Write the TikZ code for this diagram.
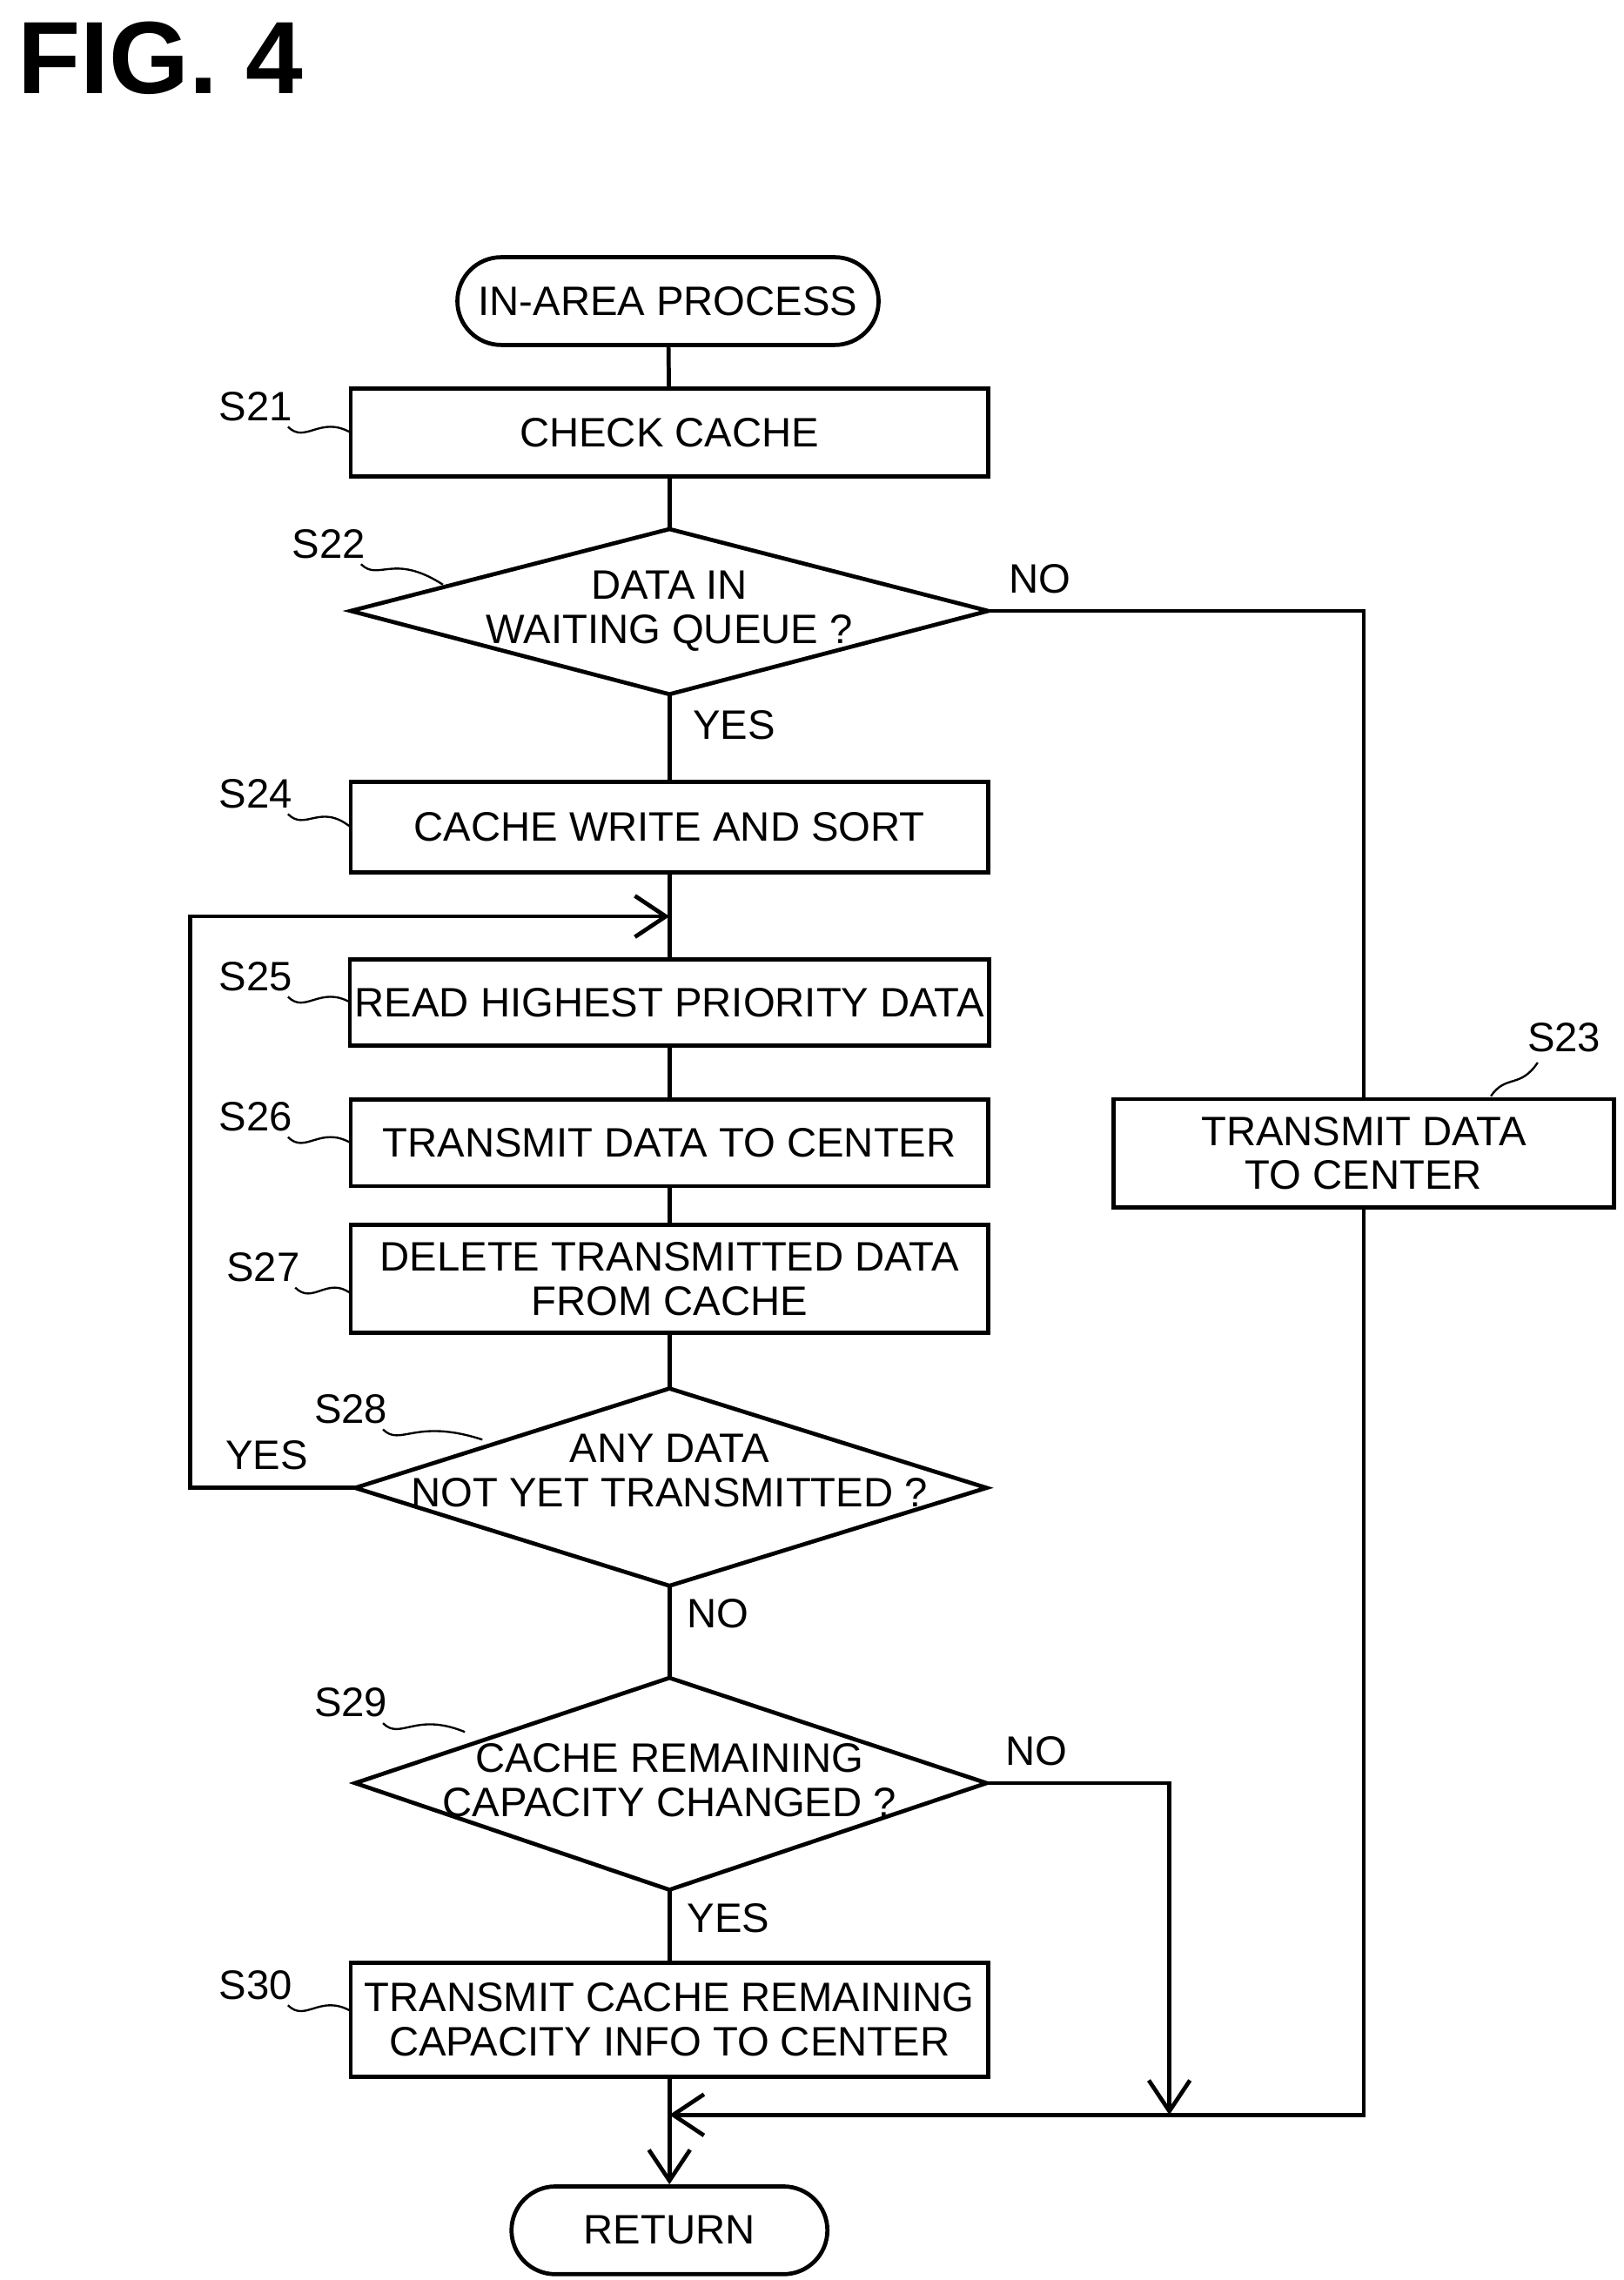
\documentclass[tikz,border=0pt]{standalone}
\usepackage{fontspec}
\setmainfont{Liberation Sans}
\usetikzlibrary{shapes.geometric,arrows.meta,calc}
\begin{document}
\begin{tikzpicture}[x=0.01cm,y=-0.01cm,
  every node/.style={font=\fontsize{8}{8.6}\selectfont,inner sep=1pt},
  lab/.style={font=\fontsize{8}{8.6}\selectfont},
  bx/.style={draw,thick,minimum width=4.36cm,align=center},
  ln/.style={thick},
  arr/.style={thick,-{Straight Barb[length=6pt,width=8pt]}},
  sq/.style={thin}]
\useasboundingbox (0,0) rectangle (1111,1560);
\node[font=\bfseries\fontsize{20}{22}\selectfont,anchor=west] (fig) at (8,40) {FIG. 4};
\node[draw,thick,rounded corners=0.3cm,minimum width=2.88cm,minimum height=0.6cm] (st) at (457,206) {IN-AREA PROCESS};
\node[bx,minimum height=0.6cm] (s21) at (458,296) {CHECK CACHE};
\node[align=center] (s22) at (458,418) {DATA IN\\WAITING QUEUE ?};
\coordinate (s22n) at (458,362); \coordinate (s22s) at (458,475);
\coordinate (s22w) at (240,418); \coordinate (s22e) at (676,418);
\draw[ln] (s22n) -- (s22e) -- (s22s) -- (s22w) -- cycle;
\node[bx,minimum height=0.62cm] (s24) at (458,566) {CACHE WRITE AND SORT};
\node[bx,minimum height=0.59cm] (s25) at (458,686) {READ HIGHEST PRIORITY DATA};
\node[bx,minimum height=0.59cm] (s26) at (458,782) {TRANSMIT DATA TO CENTER};
\node[bx,minimum height=0.74cm] (s27) at (458,875) {DELETE TRANSMITTED DATA\\FROM CACHE};
\node[align=center] (s28) at (458,1006) {ANY DATA\\NOT YET TRANSMITTED ?};
\coordinate (s28n) at (458,950); \coordinate (s28s) at (458,1085);
\coordinate (s28w) at (243,1018); \coordinate (s28e) at (675,1018);
\draw[ln] (s28n) -- (s28e) -- (s28s) -- (s28w) -- cycle;
\node[align=center] (s29) at (458,1218) {CACHE REMAINING\\CAPACITY CHANGED ?};
\coordinate (s29n) at (458,1148); \coordinate (s29s) at (458,1293);
\coordinate (s29w) at (243,1220); \coordinate (s29e) at (675,1220);
\draw[ln] (s29n) -- (s29e) -- (s29s) -- (s29w) -- cycle;
\node[bx,minimum height=0.78cm] (s30) at (458,1382) {TRANSMIT CACHE REMAINING\\CAPACITY INFO TO CENTER};
\node[draw,thick,rounded corners=0.3cm,minimum width=2.16cm,minimum height=0.6cm] (ret) at (458,1526) {RETURN};
\node[draw,thick,minimum width=3.42cm,minimum height=0.74cm,align=center] (s23) at (933,789) {TRANSMIT DATA\\TO CENTER};
\coordinate (loop) at (458,627);
\coordinate (m) at (458,1447);
\coordinate (c1) at (933,418);
\coordinate (c2) at (933,1447);
\coordinate (c3) at (800,1220);
\coordinate (c4) at (800,1447);
\coordinate (c5) at (130,1018);
\coordinate (c6) at (130,627);
\draw[ln] (st) -- (s21);
\draw[ln] (s21) -- (s22n);
\draw[ln] (s22s) -- (s24);
\draw[ln] (s24) -- (s25);
\draw[ln] (s25) -- (s26);
\draw[ln] (s26) -- (s27);
\draw[ln] (s27) -- (s28n);
\draw[ln] (s28s) -- (s29n);
\draw[ln] (s29s) -- (s30);
\draw[arr] (s30) -- (ret);
\draw[arr] (s28w) -- (c5) -- (c6) -- (loop);
\draw[ln] (s22e) -- (c1) -- (s23.north);
\draw[arr] (s23.south) -- (c2) -- (m);
\draw[arr] (s29e) -- (c3) -- (c4);
\node[lab,anchor=south west] (no1) at (686,410) {NO};
\node[lab,anchor=north west] (y1) at (470,482) {YES};
\node[lab,anchor=south west] (y2) at (150,1010) {YES};
\node[lab,anchor=north west] (n2) at (466,1090) {NO};
\node[lab,anchor=south west] (n3) at (684,1212) {NO};
\node[lab,anchor=north west] (y3) at (466,1298) {YES};
\foreach \n/\x/\y/\tx/\ty in {S21/175/278/240/296, S22/225/372/303/400, S24/175/543/240/566, S25/175/668/240/686, S26/175/764/240/782, S27/180/867/240/885, S28/240/964/330/985, S29/240/1165/318/1185, S30/175/1358/240/1376}{
  \node[lab] (l\n) at (\x,\y) {\n};
  \draw[sq] ($(\x,\y)+(22,14)$) .. controls ($(\x,\y)+(34,26)$) and ($(\x,\y)+(44,6)$) .. (\tx,\ty);
}
\node[lab] (lS23) at (1070,710) {S23};
\draw[sq] (1020,750) .. controls (1030,735) and (1040,745) .. (1052,727);
\end{tikzpicture}
\end{document}
